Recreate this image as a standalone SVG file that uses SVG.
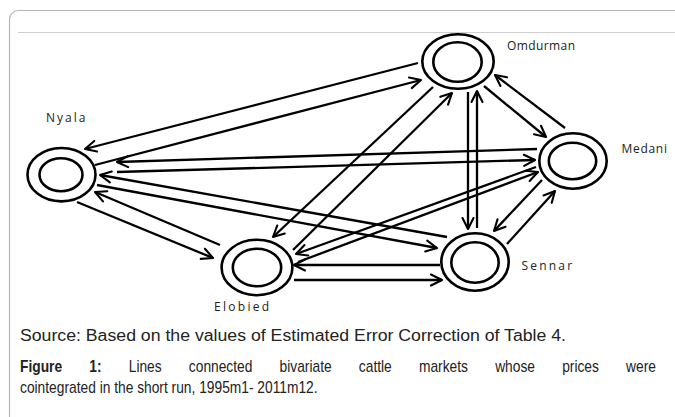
<svg xmlns="http://www.w3.org/2000/svg" width="675" height="417" viewBox="0 0 675 417">
  <style>
    .ring { fill: none; stroke: #000; stroke-width: 2.6; }
    .edge { fill: none; stroke: #000; stroke-width: 2.3; marker-end: url(#arrow); }
    .label { font-family: "Open Sans", "Liberation Sans", sans-serif; font-size: 12px; fill: #222; }
    .caption { font-family: "Liberation Sans", Arial, sans-serif; fill: #222; }
  </style>
  <defs>
    <marker id="arrow" markerUnits="userSpaceOnUse" viewBox="-13 -7 15 14" refX="0" refY="0" markerWidth="15" markerHeight="14" orient="auto">
      <path d="M-11,-5.5 L0,0 L-11,5.5" fill="none" stroke="#000" stroke-width="2.1" stroke-linecap="round" stroke-linejoin="round"/>
    </marker>
  </defs>

  <rect width="675" height="417" fill="#fff"/>
  <!-- panel frame and rule -->
  <rect x="9.5" y="10.5" width="700" height="440" rx="9" fill="none" stroke="#b5b5b5" stroke-width="1.2"/>
  <line x1="18" y1="32.5" x2="675" y2="32.5" stroke="#cfcfcf" stroke-width="1"/>

  <!-- connectors -->
  <g id="connectors">
    <line class="edge" x1="418" y1="63" x2="85" y2="149"/>
    <line class="edge" x1="95" y1="165" x2="421" y2="80"/>
    <line class="edge" x1="537" y1="149" x2="117" y2="162"/>
    <line class="edge" x1="117" y1="172" x2="535" y2="160"/>
    <line class="edge" x1="447" y1="237" x2="100" y2="175"/>
    <line class="edge" x1="97" y1="185" x2="437" y2="248"/>
    <line class="edge" x1="220" y1="245" x2="95" y2="192"/>
    <line class="edge" x1="77" y1="202" x2="213" y2="258"/>
    <line class="edge" x1="433" y1="87" x2="273" y2="237"/>
    <line class="edge" x1="293" y1="250" x2="452" y2="93"/>
    <line class="edge" x1="536" y1="167" x2="296" y2="254"/>
    <line class="edge" x1="298" y1="262" x2="538" y2="172"/>
    <line class="edge" x1="440" y1="265" x2="294" y2="265"/>
    <line class="edge" x1="294" y1="280" x2="442" y2="280"/>
    <line class="edge" x1="468" y1="92" x2="468" y2="229"/>
    <line class="edge" x1="477" y1="228" x2="477" y2="91"/>
    <line class="edge" x1="484" y1="86" x2="546" y2="137"/>
    <line class="edge" x1="565" y1="128" x2="495" y2="75"/>
    <line class="edge" x1="542" y1="180" x2="494" y2="231"/>
    <line class="edge" x1="507" y1="244" x2="555" y2="191"/>
  </g>

  <!-- market nodes -->
  <g id="omdurman">
    <ellipse class="ring" cx="458" cy="61.5" rx="35.7" ry="27.2" style="fill:#fff"/>
    <ellipse class="ring" cx="457.5" cy="62" rx="24.2" ry="19.7"/>
    <text class="label" x="507" y="50" letter-spacing="0.4">Omdurman</text>
  </g>
  <g id="nyala">
    <ellipse class="ring" cx="61.5" cy="174.7" rx="34" ry="26.7" style="fill:#fff"/>
    <ellipse class="ring" cx="61" cy="174.7" rx="21.5" ry="16.5"/>
    <text class="label" x="46" y="121.5" letter-spacing="2">Nyala</text>
  </g>
  <g id="medani">
    <ellipse class="ring" cx="573" cy="161" rx="33.7" ry="27.7" style="fill:#fff"/>
    <ellipse class="ring" cx="572.5" cy="161" rx="23.7" ry="18.2"/>
    <text class="label" x="621.5" y="153" letter-spacing="0.7">Medani</text>
  </g>
  <g id="elobied">
    <ellipse class="ring" cx="257" cy="267.5" rx="35.4" ry="27.7" style="fill:#fff"/>
    <ellipse class="ring" cx="257" cy="267.5" rx="24.2" ry="18.7"/>
    <text class="label" x="214" y="310.5" letter-spacing="2.3">Elobied</text>
  </g>
  <g id="sennar">
    <ellipse class="ring" cx="475" cy="262" rx="33.7" ry="28.7" style="fill:#fff"/>
    <ellipse class="ring" cx="475" cy="262.5" rx="23.7" ry="20.2"/>
    <text class="label" x="521.5" y="270" letter-spacing="2.2">Sennar</text>
  </g>

  <!-- captions -->
  <text class="caption" x="20" y="341" font-size="16" textLength="546" lengthAdjust="spacingAndGlyphs">Source: Based on the values of Estimated Error Correction of Table 4.</text>
  <!-- condensed caption block (narrow face emulated by horizontal scale) -->
  <g transform="scale(0.82,1)">
    <text class="caption" x="24.4" y="372" font-size="16.8" word-spacing="28.5"><tspan font-weight="bold">Figure 1:</tspan> Lines connected bivariate cattle markets whose prices were</text>
    <text class="caption" x="24.4" y="393" font-size="16.8">cointegrated in the short run, 1995m1- 2011m12.</text>
  </g>
</svg>
